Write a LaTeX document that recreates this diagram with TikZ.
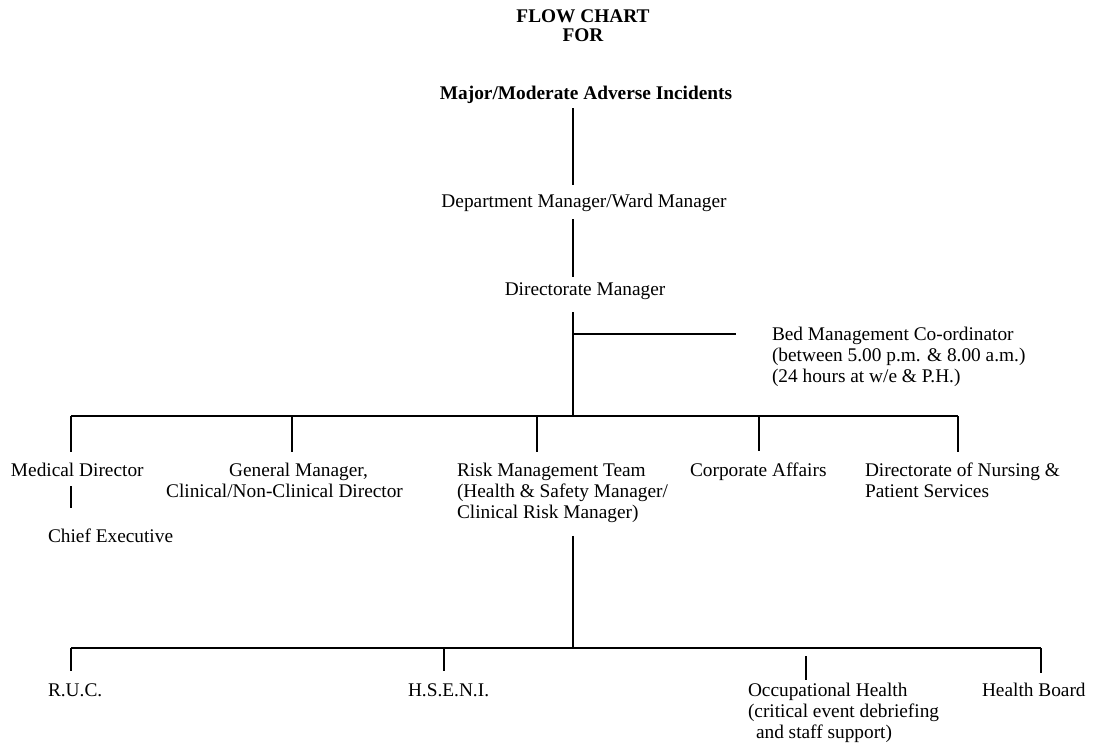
\documentclass[tikz,border=0pt]{standalone}
\usepackage{fontspec}
\setmainfont{Liberation Serif}
\usetikzlibrary{calc,positioning}

\begin{document}
\begin{tikzpicture}[x=0.75pt,y=-0.75pt,
  lbl/.style={inner sep=0pt, outer sep=0pt, text=drawColor, font=\fontsize{14.5}{15.75}\selectfont},
  lbll/.style={lbl, align=left, anchor=base west},
  lblc/.style={lbl, align=center, anchor=base},
  blockl/.style={lbl, align=left, anchor=north west},
  blockc/.style={lbl, align=center, anchor=north},
  ttl/.style={lblc, font=\fontsize{14.5}{14.25}\selectfont\bfseries},
  wire/.style={draw=drawColor, line width=0.8pt, line cap=butt}]
\definecolor{drawColor}{RGB}{0,0,0}
\definecolor{fillColor}{RGB}{255,255,255}
\path[use as bounding box, fill=fillColor] (0,0) rectangle (1094,752);

% title and upper chain
\node[ttl, anchor=north] (flow) at (583, 10) {FLOW CHART\\FOR};
\node[ttl] (major) at (586,100) {Major/Moderate Adverse Incidents};
\node[lblc] (dept) at (584,208) {Department Manager/Ward Manager};
\node[lblc] (dirm) at (585,295) {Directorate Manager};
\node[blockl] (bed) at (772,327) {Bed Management Co-ordinator\\(between 5.00 p.m. \& 8.00 a.m.)\\(24 hours at w/e \& P.H.)};

\coordinate (spine) at (573,0);
\coordinate (barA) at (573,416);
\coordinate (barB) at (573,648);
\coordinate (bedtip) at ([xshift=-27pt,yshift=-5.25pt]bed.north west);

\path[wire, shorten <=3pt, shorten >=7.5pt] (major.south -| spine) -- (dept.north -| spine);
\path[wire, shorten <=5.25pt, shorten >=3.75pt] (dept.south -| spine) -- (dirm.north -| spine);
\path[wire, shorten <=9.75pt] (dirm.south -| spine) -- (barA);
\path[wire] (spine |- bedtip) -- (bedtip);

% second level
\node[lbll] (med) at ( 11,476) {Medical Director};
\node[lbll] (chief) at ( 48,542) {Chief Executive};
\node[blockc] (genm) at (284.5,463) {\hspace*{21pt}General Manager,\\Clinical/Non-Clinical Director};
\node[blockl] (risk) at (457,463) {Risk Management Team\\(Health \& Safety Manager/\\Clinical Risk Manager)};
\node[lbll] (corp) at (690,476) {Corporate Affairs};
\node[blockl] (nurs) at (865,463) {Directorate of Nursing \&\\Patient Services};

\coordinate (dA1) at ( 71,416);
\coordinate (dA2) at (292,416);
\coordinate (dA3) at (537,416);
\coordinate (dA4) at (759,416);
\coordinate (dA5) at (958,416);

\path[wire] (dA1) -- (dA5);
\path[wire, shorten >=8.25pt] (dA1) -- (dA1 |- med.north);
\path[wire, shorten >=8.25pt] (dA2) -- (dA2 |- genm.north);
\path[wire, shorten >=8.25pt] (dA3) -- (dA3 |- risk.north);
\path[wire, shorten >=8.25pt] (dA4) -- (dA4 |- corp.north);
\path[wire, shorten >=8.25pt] (dA5) -- (dA5 |- nurs.north);
\path[wire, shorten <=7.5pt, shorten >=15pt] (dA1 |- med.south) -- (dA1 |- chief.north);
\path[wire, shorten <=10pt] (spine |- risk.south) -- (barB);

% third level
\node[lbll] (ruc) at ( 48,696) {R.U.C.};
\node[lbll] (hseni) at (408,696) {H.S.E.N.I.};
\node[blockl] (occ) at (748,683) {Occupational Health\\(critical event debriefing\\\hspace*{6pt}and staff support)};
\node[lbll] (hb) at (982,696) {Health Board};

\coordinate (dB1) at (  71,648);
\coordinate (dB2) at ( 444,648);
\coordinate (dB3) at ( 806,648);
\coordinate (dB4) at (1041,648);

\path[wire] (dB1) -- (dB4);
\path[wire, shorten >=9pt] (dB1) -- (dB1 |- ruc.north);
\path[wire, shorten >=9pt] (dB2) -- (dB2 |- hseni.north);
\path[wire, shorten <=6pt, shorten >=2.25pt] (dB3) -- (dB3 |- occ.north);
\path[wire, shorten >=7.5pt] (dB4) -- (dB4 |- hb.north);
\end{tikzpicture}
\end{document}
